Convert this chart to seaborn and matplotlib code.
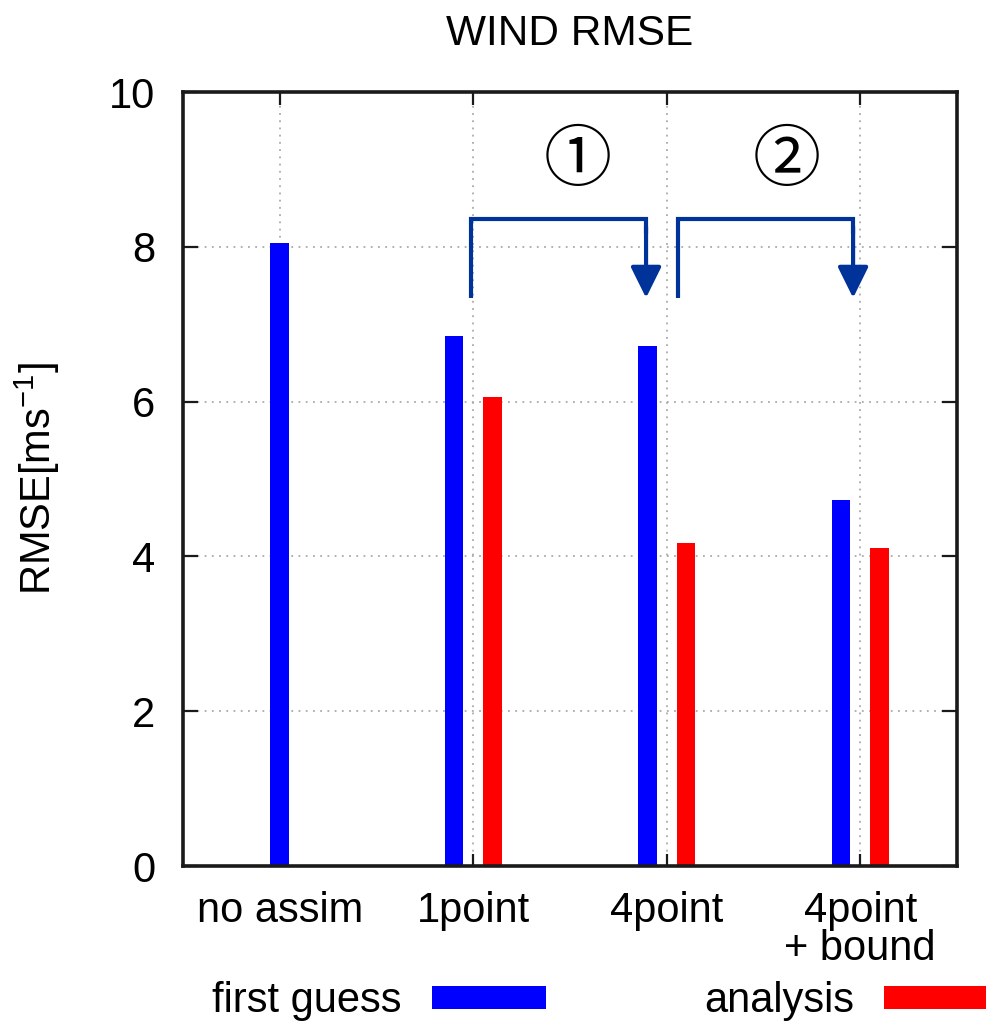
import numpy as np
import pandas as pd
import matplotlib
matplotlib.use("Agg")
import matplotlib.pyplot as plt
import matplotlib.patches as mpatches
import seaborn as sns

# ---- data ----
categories = ["no assim", "1point", "4point", "4point\n+ bound"]
first_guess = [8.05, 6.85, 6.72, 4.73]
analysis = [np.nan, 6.06, 4.17, 4.11]
series_names = ["first guess", "analysis"]
yticks = [0, 2, 4, 6, 8, 10]

sns.set_style("white")
plt.rcParams["font.family"] = ["Liberation Sans", "DejaVu Sans"]
plt.rcParams["mathtext.fontset"] = "custom"
plt.rcParams["mathtext.rm"] = "Liberation Sans"
plt.rcParams["mathtext.it"] = "Liberation Sans"
plt.rcParams["text.color"] = "black"
plt.rcParams["axes.labelcolor"] = "black"

FS = 30
BLUE = "#0000ff"
RED = "#ff0000"
ARROW = "#003399"

# build long table; bars positioned at category index +/- offset
rows = []
for i, cat in enumerate(categories):
    fg, an = first_guess[i], analysis[i]
    has_pair = not np.isnan(an)
    off = 0.1 if has_pair else 0.0
    rows.append({"pos": i - off, "value": fg, "series": series_names[0]})
    if has_pair:
        rows.append({"pos": i + off, "value": an, "series": series_names[1]})
df = pd.DataFrame(rows)

fig = plt.figure(figsize=(9.86, 10.25), dpi=100)
ax = fig.add_axes([183 / 986, 1 - 866 / 1025, 774 / 986, 774 / 1025])

sns.barplot(data=df, x="pos", y="value", hue="series", native_scale=True,
            dodge=False, width=0.485, saturation=1,
            palette={series_names[0]: BLUE, series_names[1]: RED},
            ax=ax, legend=False, edgecolor="none", linewidth=0, errorbar=None)

ax.set_xlim(-0.5, len(categories) - 0.5)
ax.set_ylim(0, 10)
ax.set_xticks(range(len(categories)))
ax.set_xticklabels(categories, fontsize=FS, linespacing=0.95)
ax.set_yticks(yticks)
ax.set_yticklabels([str(t) for t in yticks], fontsize=FS)
ax.set_xlabel("")
ax.set_ylabel("RMSE[ms$^{-1}$]", fontsize=FS)
ax.yaxis.set_label_coords(-0.156, 0.5)

ax.grid(True, linestyle=(0, (1, 3)), color="#aaaaaa", linewidth=1.3)
ax.set_axisbelow(True)
for s in ax.spines.values():
    s.set_linewidth(2.6)
    s.set_color("#1a1a1a")
    s.set_visible(True)
ax.tick_params(axis="y", direction="in", length=11, width=1.6, left=True, right=True,
               pad=20, colors="#1a1a1a", labelcolor="black")
ax.tick_params(axis="x", direction="in", length=9, width=1.6, bottom=True, top=True,
               pad=18, colors="#1a1a1a", labelcolor="black")

ax.set_title("WIND RMSE", fontsize=FS + 0.5, pad=34, color="black")

# bracket arrows
def bracket(x0, x1, y0, ytop, ytip):
    ax.plot([x0, x0, x1, x1], [y0, ytop, ytop, ytop - 0.2], color=ARROW, lw=3,
            solid_joinstyle="miter", solid_capstyle="butt", zorder=5)
    ax.annotate("", xy=(x1, ytip), xytext=(x1, ytop - 0.1),
                arrowprops=dict(arrowstyle="-|>,head_length=0.95,head_width=0.47",
                                mutation_scale=20, color=ARROW, lw=3,
                                shrinkA=0, shrinkB=0), zorder=5)

bracket(0.988, 1.893, 7.34, 8.36, 7.34)
bracket(2.058, 2.963, 7.34, 8.36, 7.34)

ax.text(1.541, 9.09, "①", fontsize=49, ha="center", va="center",
        family=["Noto Sans CJK JP", "DejaVu Sans"])
ax.text(2.62, 9.09, "②", fontsize=49, ha="center", va="center",
        family=["Noto Sans CJK JP", "DejaVu Sans"])

handles = [mpatches.Patch(facecolor=BLUE, edgecolor="none"),
           mpatches.Patch(facecolor=RED, edgecolor="none")]
fig.legend(handles, series_names, loc="center left",
           bbox_to_anchor=(212 / 986, 1 - 1001 / 1025), ncol=2, frameon=False,
           fontsize=FS, markerfirst=False, handlelength=2.75, handleheight=0.48,
           handletextpad=0.72, columnspacing=3.8, borderpad=0, borderaxespad=0)

fig.savefig("out.png", dpi=100)
